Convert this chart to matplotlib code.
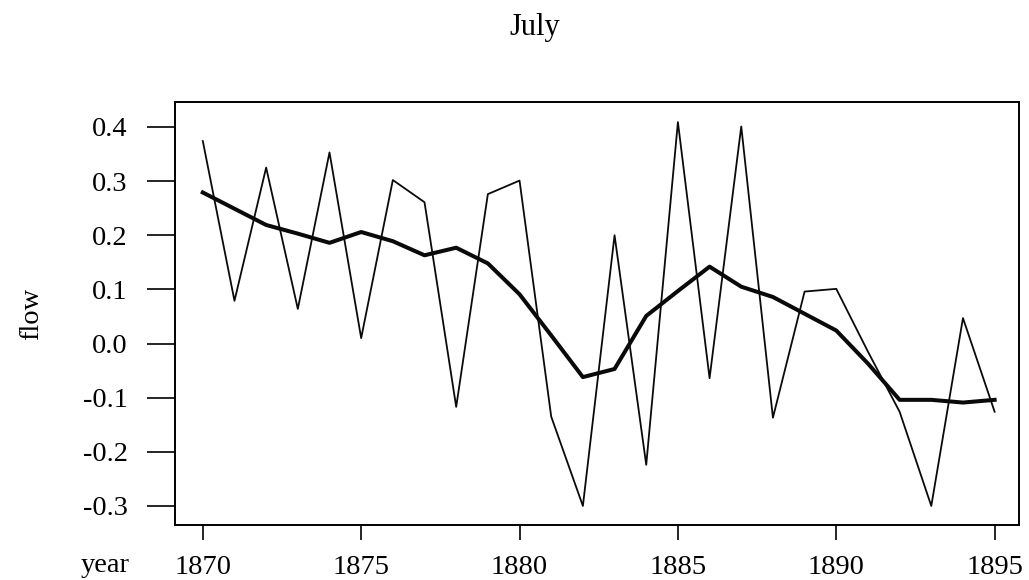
import matplotlib.pyplot as plt

years = list(range(1870, 1896))
flow = [0.374, 0.079, 0.325, 0.064, 0.353, 0.010, 0.302, 0.261, -0.117, 0.276,
        0.301, -0.135, -0.300, 0.200, -0.224, 0.409, -0.064, 0.401, -0.137, 0.096,
        0.101, -0.015, -0.126, -0.300, 0.047, -0.126]
smooth = [0.279, 0.249, 0.219, 0.203, 0.186, 0.206, 0.189, 0.163, 0.177, 0.148,
          0.091, 0.015, -0.062, -0.047, 0.051, 0.097, 0.142, 0.105, 0.086, 0.055,
          0.024, -0.037, -0.104, -0.104, -0.109, -0.104]
xticks = [1870, 1875, 1880, 1885, 1890, 1895]
yticks = [0.4, 0.3, 0.2, 0.1, 0.0, -0.1, -0.2, -0.3]

plt.rcParams['font.family'] = ['Liberation Serif', 'DejaVu Serif']

fig = plt.figure(figsize=(10.29, 5.8), dpi=100)
ax = fig.add_axes([0.170, 0.095, 0.820, 0.729])

ax.plot(years, flow, color='#0a0a0a', linewidth=1.3)
ax.plot(years, smooth, color='#0a0a0a', linewidth=2.9)

ax.set_xlim(1869.12, 1895.76)
ax.set_ylim(-0.335, 0.446)
ax.set_xticks(xticks)
ax.set_xticklabels([str(x) for x in xticks], fontsize=20.5)
ax.set_yticks(yticks)
ax.set_yticklabels(['%.1f' % y for y in yticks], fontsize=20.5)
ax.tick_params(axis='x', length=11, width=1.2, pad=11)
ax.tick_params(axis='y', length=20, width=1.2, pad=14)
for s in ax.spines.values():
    s.set_linewidth(1.4)

ax.set_ylabel('flow', fontsize=20.5, labelpad=28)
fig.text(105 / 1029, 1 - 566 / 580, 'year', fontsize=20.5, ha='center', va='center')
fig.text(535 / 1029, 1 - 27 / 580, 'July', fontsize=22, ha='center', va='center')

fig.savefig('out.png', dpi=100)
